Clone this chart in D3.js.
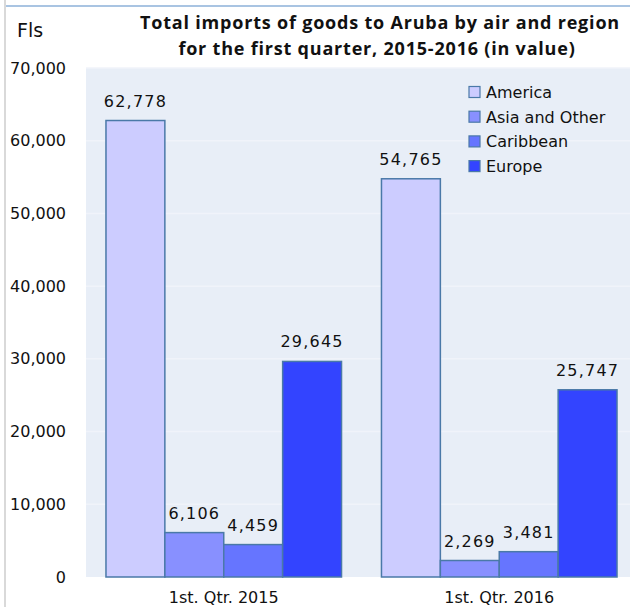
<!DOCTYPE html>
<html>
<head>
<meta charset="utf-8">
<script src="https://cdn.jsdelivr.net/npm/d3@7"></script>
<style>
  body { margin: 0; background: #fff; }
  text { font-family: "DejaVu Sans", sans-serif; fill: #111; }
</style>
</head>
<body>
<div id="chart"></div>
<script>
const quarters = ["1st. Qtr. 2015", "1st. Qtr. 2016"];
const regions = ["America", "Asia and Other", "Caribbean", "Europe"];
const america = [62778, 54765];
const asiaOther = [6106, 2269];
const caribbean = [4459, 3481];
const europe = [29645, 25747];
const yTicks = [0, 10000, 20000, 30000, 40000, 50000, 60000, 70000];
const colors = ["#ccccff", "#8890ff", "#6675ff", "#3344ff"];

const seriesVals = [america, asiaOther, caribbean, europe];
const data = quarters.map((q, i) => ({
    quarter: q,
    values: regions.map((r, j) => ({ region: r, value: seriesVals[j][i] }))
}));

const width = 630, height = 607;
const margin = { top: 68, right: -7, bottom: 30, left: 86 };

const svg = d3.select("#chart").append("svg")
    .attr("width", width)
    .attr("height", height);

// frame lines
svg.append("line")
    .attr("x1", 5).attr("x2", 5).attr("y1", 0).attr("y2", height)
    .attr("stroke", "#d9d9d9").attr("stroke-width", 2);
svg.append("line")
    .attr("x1", 6).attr("x2", width).attr("y1", 6).attr("y2", 6)
    .attr("stroke", "#a9c4e2").attr("stroke-width", 2);

let y = d3.scaleLinear()
    .domain([0, 70000])
    .range([height - margin.bottom, margin.top]);

let x0 = d3.scaleBand()
    .domain(quarters)
    .range([margin.left, width - margin.right])
    .paddingInner(0.145)
    .paddingOuter(0.0725);

let x1 = d3.scaleBand()
    .domain(regions)
    .range([0, x0.bandwidth()]);

let color = d3.scaleOrdinal()
    .domain(regions)
    .range(colors);

// plot background
svg.append("rect")
    .attr("x", margin.left)
    .attr("y", margin.top)
    .attr("width", width - margin.left)
    .attr("height", y(0) - margin.top)
    .attr("fill", "#e8eef7");

// faint gridlines
svg.append("g")
    .selectAll("line")
    .data(yTicks.slice(1))
    .join("line")
    .attr("x1", margin.left)
    .attr("x2", width)
    .attr("y1", d => y(d))
    .attr("y2", d => y(d))
    .attr("stroke", "#f0f3fa")
    .attr("stroke-width", 1.5);

let yAxis = g => g
    .attr("transform", `translate(${margin.left},0)`)
    .call(d3.axisLeft(y).tickValues(yTicks).tickSize(0).tickPadding(20)
        .tickFormat(d3.format(",")))
    .call(g => g.selectAll(".domain").remove())
    .call(g => g.selectAll("text")
        .style("font-family", "DejaVu Sans")
        .style("font-size", "16px")
        .attr("fill", "#111"));

svg.append("g").call(yAxis);

// bars
const groups = svg.append("g")
    .selectAll("g")
    .data(data)
    .join("g")
    .attr("transform", d => `translate(${x0(d.quarter)},0)`);

groups.selectAll("rect")
    .data(d => d.values)
    .join("rect")
    .attr("x", d => x1(d.region))
    .attr("y", d => y(d.value))
    .attr("width", x1.bandwidth())
    .attr("height", d => y(0) - y(d.value))
    .attr("fill", d => color(d.region))
    .attr("stroke", "#4a79a8")
    .attr("stroke-width", 1.5);

// value labels
groups.selectAll("text")
    .data(d => d.values)
    .join("text")
    .attr("x", d => x1(d.region) + x1.bandwidth() / 2)
    .attr("y", d => y(d.value) - 14)
    .attr("text-anchor", "middle")
    .style("font-size", "16px")
    .style("letter-spacing", "1.2px")
    .text(d => d3.format(",")(d.value));

// x labels
svg.append("g")
    .selectAll("text")
    .data(quarters)
    .join("text")
    .attr("x", d => x0(d) + x0.bandwidth() / 2)
    .attr("y", 603)
    .attr("text-anchor", "middle")
    .style("font-size", "16px")
    .text(d => d);

// legend
const legend = svg.append("g")
    .selectAll("g")
    .data(regions)
    .join("g")
    .attr("transform", (d, i) => `translate(469,${92 + i * 24.7})`);

legend.append("rect")
    .attr("x", 0).attr("y", -5.5)
    .attr("width", 11).attr("height", 11)
    .attr("fill", d => color(d))
    .attr("stroke", "#4a79a8")
    .attr("stroke-width", 1.2);

legend.append("text")
    .attr("x", 17)
    .attr("y", 6)
    .style("font-size", "16px")
    .text(d => d);

// title
svg.append("text")
    .attr("x", 380).attr("y", 29)
    .attr("text-anchor", "middle")
    .style("font-family", "Open Sans")
    .style("font-weight", "bold")
    .style("font-size", "18px")
    .style("letter-spacing", "0.8px")
    .text("Total imports of goods to Aruba  by air and region");
svg.append("text")
    .attr("x", 377).attr("y", 55)
    .attr("text-anchor", "middle")
    .style("font-family", "Open Sans")
    .style("font-weight", "bold")
    .style("font-size", "18px")
    .style("letter-spacing", "0.8px")
    .text("for the first quarter,  2015-2016 (in value)");

svg.append("text")
    .attr("x", 17).attr("y", 37)
    .style("font-size", "19px")
    .text("Fls");
</script>
</body>
</html>
